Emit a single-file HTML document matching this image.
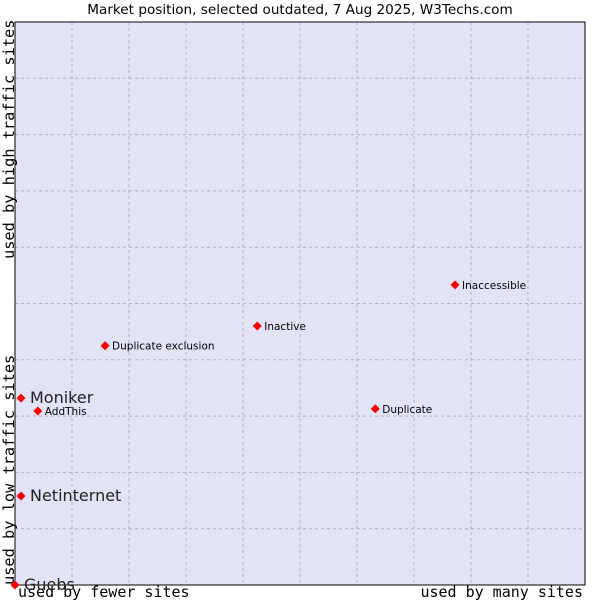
<!DOCTYPE html>
<html><head><meta charset="utf-8"><style>
body{margin:0;background:#fff}
svg{display:block}
</style></head><body>
<svg width="600" height="600" xmlns="http://www.w3.org/2000/svg">
<text x="300" y="14" text-anchor="middle" font-family="DejaVu Sans, sans-serif" font-size="13.6" fill="#000">Market position, selected outdated, 7 Aug 2025, W3Techs.com</text>
<rect x="15" y="22" width="570" height="563" fill="#e3e3f8"/>
<g id="grid"></g>
<rect x="15" y="22" width="570" height="563" fill="none" stroke="#000" stroke-width="1"/>
<text transform="translate(14,585) rotate(-90)" font-family="DejaVu Sans Mono, Liberation Mono, monospace" font-size="15.3">used by low traffic sites</text>
<text transform="translate(14,259) rotate(-90)" font-family="DejaVu Sans Mono, Liberation Mono, monospace" font-size="15.3">used by high traffic sites</text>
<text x="18" y="597" font-family="DejaVu Sans Mono, Liberation Mono, monospace" font-size="15">used by fewer sites</text>
<text x="583" y="597" text-anchor="end" font-family="DejaVu Sans Mono, Liberation Mono, monospace" font-size="15">used by many sites</text>
<g id="points"></g>
</svg>
<script>
const names=["Moniker","AddThis","Netinternet","Guebs","Duplicate exclusion","Inactive","Inaccessible","Duplicate"];
const xs=[1.05,4.0,1.05,0,15.8,42.5,77.2,63.2];
const ys=[33.2,30.9,15.8,0,42.5,46.0,53.3,31.3];
const big=[true,false,true,true,false,false,false,false];
const NS="http://www.w3.org/2000/svg";
const X=v=>15+v*5.7, Y=v=>585-v*5.63;
const grid=document.getElementById('grid');
for(let i=1;i<10;i++){
 let l=document.createElementNS(NS,'line');
 
 
 l.setAttribute('x1',X(i*10));l.setAttribute('x2',X(i*10));l.setAttribute('y1',22);l.setAttribute('y2',585);
 l.setAttribute('stroke','#b4b4b4');l.setAttribute('stroke-dasharray','3,3');grid.appendChild(l);
 let h=document.createElementNS(NS,'line');
 
 
 h.setAttribute('x1',15);h.setAttribute('x2',585);h.setAttribute('y1',Y(i*10));h.setAttribute('y2',Y(i*10));
 h.setAttribute('stroke','#b4b4b4');h.setAttribute('stroke-dasharray','3,3');grid.appendChild(h);
}
const pts=document.getElementById('points');
names.forEach((n,i)=>{
 const cx=X(xs[i]),cy=Y(ys[i]);
 const d=document.createElementNS(NS,'polygon');
 
 
 d.setAttribute('points',`${cx},${cy-4.5} ${cx+4.5},${cy} ${cx},${cy+4.5} ${cx-4.5},${cy}`);
 d.setAttribute('fill','#f00');pts.appendChild(d);
 const t=document.createElementNS(NS,'text');
 
 
 t.setAttribute('x',cx+(big[i]?9:7));t.setAttribute('y',cy+(big[i]?5:4));
 t.setAttribute('font-family','DejaVu Sans, sans-serif');
 t.setAttribute('font-size',big[i]?16:10.5);
 t.setAttribute('fill',big[i]?'#222':'#000');
 t.textContent=n;pts.appendChild(t);
});
</script>
</body></html>
